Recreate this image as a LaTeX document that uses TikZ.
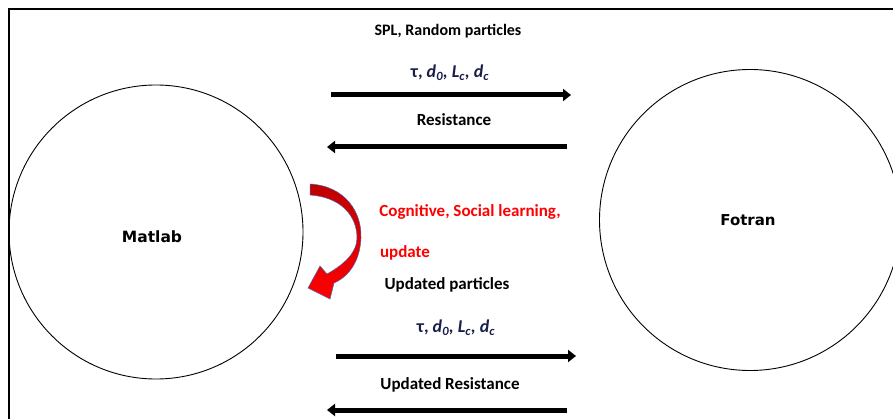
\documentclass[tikz,border=0pt]{standalone}
\usepackage{fontspec}
\setmainfont{Carlito}
\newfontfamily\boxfont{DejaVu Sans}
\usetikzlibrary{arrows.meta}

\tikzset{
  unit/.style={circle, draw, line width=0.9pt, minimum size=#1},
  msgtext/.style={font=\bfseries\fontsize{17}{20}\selectfont},
  symtext/.style={text=mathblue, font=\bfseries\itshape\fontsize{18}{20}\selectfont},
  flow/.style={line width=5pt, -{Triangle[length=8pt,width=12pt]}},
}

\begin{document}
\begin{tikzpicture}[x=1pt,y=-1pt]

        % Define colors
        \definecolor{mathblue}{rgb}{0.1, 0.12, 0.3} % Navy for symbols
        \definecolor{darkred}{rgb}{0.75, 0, 0} % Dark red top
        \definecolor{edgeblue}{rgb}{0.3, 0.4, 0.7} % Arrow outline

        % Fix the page size
        \useasboundingbox (0,0) rectangle (893,419);

        % Frame (top and left only)
        \draw[line width=1.6pt] (893,9) -- (9,9) -- (9,419);

        % Two programs
        \node[unit=294pt] (matlab) at (156,232) {};
        \node[font=\boxfont\bfseries\fontsize{15.5}{18}\selectfont] (matlabtext) at (152,237) {Matlab};
        \node[unit=301pt] (fotran) at (750,220) {};
        \node[font=\boxfont\bfseries\fontsize{15}{18}\selectfont] (fotrantext) at (748,220) {Fotran};

        % Labels
        \node[msgtext, font=\bfseries\fontsize{16}{20}\selectfont] (spl) at (448,31) {SPL, Random particles};
        \node[symtext] (param) at (450,73) {\upshape τ, \itshape d\textsubscript{0}, L\textsubscript{c}, d\textsubscript{c}};
        \node[msgtext] (res) at (454,120) {Resistance};
        \node[msgtext, text=red] (cog) at (470,212) {Cognitive, Social learning,};
        \node[msgtext, text=red] (upd) at (405,253) {update};
        \node[msgtext] (updpart) at (447,285) {Updated particles};
        \node[symtext] (updparam) at (456,328) {\upshape τ, \itshape d\textsubscript{0}, L\textsubscript{c}, d\textsubscript{c}};
        \node[msgtext] (updres) at (450,385) {Updated Resistance};

        % Arrow ends
        \coordinate (a1) at (331,95);  \coordinate (b1) at (571,95);
        \coordinate (a2) at (567,147); \coordinate (b2) at (327,147);
        \coordinate (a3) at (336,356); \coordinate (b3) at (576,356);
        \coordinate (a4) at (567,410); \coordinate (b4) at (327,410);

        % Data flow
        \draw[flow] (a1) -- (b1);
        \draw[flow] (a2) -- (b2);
        \draw[flow] (a3) -- (b3);
        \draw[flow] (a4) -- (b4);

        % Curved update arrow
        \shade[top color=darkred, bottom color=red, draw=edgeblue, line width=0.5pt]
          (310,184) .. controls (345,186) and (362,212) .. (361,238)
          .. controls (360,260) and (350,276) .. (334,283)
          -- (330,299) -- (308,288) -- (320,266) -- (327,274)
          .. controls (345,264) and (357,252) .. (357,238)
          .. controls (357,215) and (340,197) .. (310,195) -- cycle;

\end{tikzpicture}
\end{document}
